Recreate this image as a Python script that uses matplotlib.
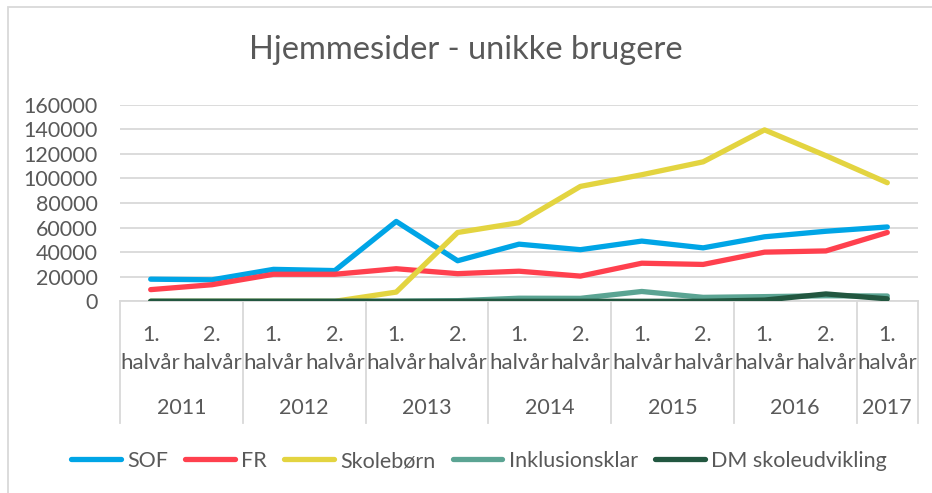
import numpy as np
import matplotlib
matplotlib.use('Agg')
import matplotlib.pyplot as plt
import matplotlib.transforms as mtransforms
from matplotlib.patches import Rectangle

plt.rcParams['font.family'] = ['Lato', 'DejaVu Sans']

# data
years = ['2011', '2012', '2013', '2014', '2015', '2016', '2017']
halves = ['1.', '2.', '1.', '2.', '1.', '2.', '1.', '2.', '1.', '2.', '1.', '2.', '1.']
sof = [18000, 17500, 26000, 25000, 65000, 33000, 46500, 42000, 49000, 43500, 52500, 57000, 60500]
fr = [9500, 13500, 22000, 22000, 26500, 22500, 24500, 20500, 31000, 30000, 40000, 41000, 56000]
skole = [0, 0, 0, 0, 7500, 56000, 64000, 93500, 103000, 113500, 139500, 118500, 96500]
inkl = [0, 0, 0, 0, 0, 500, 2500, 2400, 8000, 3200, 3800, 4500, 4300]
dm = [0, 0, 0, 0, 0, 0, 0, 0, 0, 0, 1000, 6000, 2000]

series = [('SOF', sof, '#00A5E6'),
          ('FR', fr, '#FF404E'),
          ('Skolebørn', skole, '#E3D440'),
          ('Inklusionsklar', inkl, '#5BA493'),
          ('DM skoleudvikling', dm, '#225740')]

txt = '#595959'
grid = '#D9D9D9'
fs = 15.5

W, H = 932, 493
fig = plt.figure(figsize=(W / 100, H / 100), dpi=100)
# axes placed in pixel terms of the reference
x0, x1, ytop, ybot = 120, 918, 104.7, 301.3
ax = fig.add_axes([x0 / W, 1 - ybot / H, (x1 - x0) / W, (ybot - ytop) / H])
axh = ybot - ytop

x = np.arange(len(halves))
for name, vals, col in series:
    ax.plot(x, vals, color=col, lw=3.8, solid_capstyle='round',
            solid_joinstyle='round', label=name, zorder=3)

ax.set_xlim(-0.5, len(halves) - 0.5)
ax.set_ylim(0, 160000)
ax.set_yticks(np.arange(0, 160001, 20000))
ax.yaxis.grid(True, color=grid, lw=1.3)
ax.set_axisbelow(True)
for s in ['top', 'right', 'left']:
    ax.spines[s].set_visible(False)
ax.spines['bottom'].set_color(grid)
ax.spines['bottom'].set_linewidth(1.3)
ax.set_xticks([])
ax.tick_params(axis='y', length=0, pad=16, labelsize=fs, labelcolor=txt)

# multi level category axis
tr = mtransforms.blended_transform_factory(ax.transData, ax.transAxes)
for i, h in enumerate(halves):
    ax.text(i, -33.5 / axh, h, transform=tr, ha='center', va='center',
            fontsize=fs, color=txt)
    ax.text(i, -62 / axh, 'halvår', transform=tr, ha='center', va='center',
            fontsize=16, color=txt)
for j, yr in enumerate(years):
    lo = 2 * j - 0.5
    hi = min(2 * j + 1.5, len(halves) - 0.5)
    ax.text((lo + hi) / 2, -107 / axh, yr, transform=tr, ha='center',
            va='center', fontsize=fs, color=txt)
for b in list(np.arange(-0.5, len(halves), 2)) + [len(halves) - 0.5]:
    ax.plot([b, b], [0, -121.5 / axh], transform=tr, color=grid, lw=1.3,
            clip_on=False)

fig.text(0.5, 1 - 50 / H, 'Hjemmesider - unikke brugere', ha='center',
         va='center', fontsize=23.5, color=txt)

fig.legend(loc='center', bbox_to_anchor=(479 / W, 1 - 461 / H), ncol=5,
           frameon=False, fontsize=fs, labelcolor=txt, handlelength=2.3,
           handletextpad=0.3, columnspacing=0.8)

fig.add_artist(Rectangle((7.5 / W, -0.5), 2, 1 - 6.5 / H + 0.5,
                         transform=fig.transFigure, fill=False,
                         edgecolor=grid, lw=1.3))

fig.savefig('out.png', dpi=100)
